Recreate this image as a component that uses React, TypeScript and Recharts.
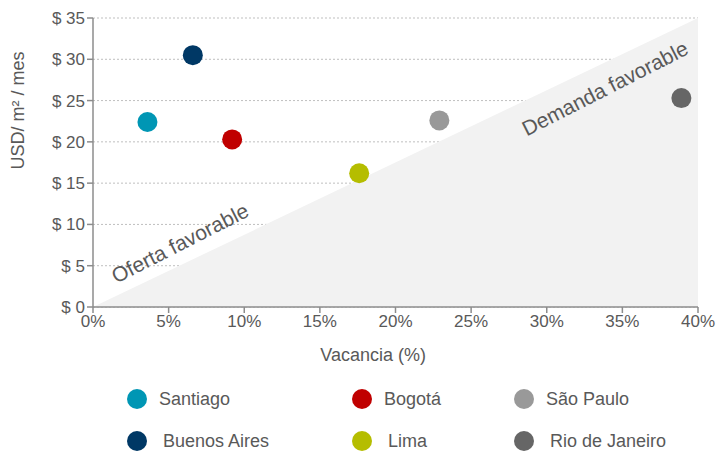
import React from 'react'
import {
  ScatterChart,
  Scatter,
  XAxis,
  YAxis,
  CartesianGrid,
  ReferenceArea,
  ReferenceDot,
  Label,
} from 'recharts'

const cities = ['Santiago', 'Buenos Aires', 'Bogotá', 'Lima', 'São Paulo', 'Rio de Janeiro']
const vacancy = [3.6, 6.6, 9.2, 17.6, 22.9, 38.9]
const rent = [22.4, 30.5, 20.3, 16.2, 22.6, 25.3]
const colors = ['#0096b4', '#003865', '#c00000', '#b5bd00', '#999999', '#666666']

const xTicks = [0, 5, 10, 15, 20, 25, 30, 35, 40]
const yTicks = [0, 5, 10, 15, 20, 25, 30, 35]

// zone labels on the diagonal
const zoneNames = ['Oferta favorable', 'Demanda favorable']
const zoneX = [5.75, 33.85]
const zoneY = [7.75, 26.5]

// legend is laid out column by column
const legendOrder = [0, 2, 4, 1, 3, 5]

const FONT = '"Liberation Sans", Arial, sans-serif'
const TEXT = '#595959'
const AXIS = '#8c8c8c'

const Dot = (color: string) => (p: any) => (
  <circle cx={p.cx} cy={p.cy} r={10} fill={color} />
)

const Triangle = (p: any) => {
  const { x, y, width, height } = p
  return (
    <polygon
      points={`${x},${y + height} ${x + width},${y} ${x + width},${y + height}`}
      fill="#f2f2f2"
    />
  )
}

const ZoneText = (text: string) => (p: any) => (
  <text
    x={p.cx}
    y={p.cy}
    textAnchor="middle"
    dominantBaseline="central"
    fontSize={21}
    fontFamily={FONT}
    fill={TEXT}
    transform={`rotate(-27 ${p.cx} ${p.cy})`}
  >
    {text}
  </text>
)

export default function App() {
  return (
    <div style={{ position: 'absolute', left: 0, top: 0, width: 720, height: 452, fontFamily: FONT }}>
      <ScatterChart width={720} height={452} margin={{ top: 18, right: 22, left: 0, bottom: 85 }}>
        <ReferenceArea x1={0} x2={40} y1={0} y2={35} shape={Triangle} />
        <CartesianGrid vertical={false} stroke="#bfbfbf" strokeDasharray="2 2" />
        <XAxis
          type="number"
          dataKey="x"
          domain={[0, 40]}
          ticks={xTicks}
          tickFormatter={(v) => `${v}%`}
          stroke={AXIS}
          strokeWidth={1.5}
          tick={{ fill: TEXT, fontSize: 17, fontFamily: FONT }}
          tickSize={6}
          height={60}
        >
          <Label
            content={({ viewBox }: any) => (
              <text
                x={viewBox.x + viewBox.width * 0.463}
                y={viewBox.y + 54}
                textAnchor="middle"
                fontSize={18}
                fontFamily={FONT}
                fill={TEXT}
              >
                Vacancia (%)
              </text>
            )}
          />
        </XAxis>
        <YAxis
          type="number"
          dataKey="y"
          domain={[0, 35]}
          ticks={yTicks}
          tickFormatter={(v) => `$ ${v}`}
          stroke={AXIS}
          strokeWidth={1.5}
          tick={{ fill: TEXT, fontSize: 17, fontFamily: FONT }}
          tickSize={6}
          width={93}
        >
          <Label
            content={({ viewBox }: any) => {
              const cx = viewBox.x + 18
              const cy = viewBox.y + viewBox.height * 0.32
              return (
                <text
                  x={cx}
                  y={cy}
                  textAnchor="middle"
                  dominantBaseline="central"
                  fontSize={18}
                  fontFamily={FONT}
                  fill={TEXT}
                  transform={`rotate(-90 ${cx} ${cy})`}
                >
                  USD/ m² / mes
                </text>
              )
            }}
          />
        </YAxis>
        {zoneNames.map((n, i) => (
          <ReferenceDot key={n} x={zoneX[i]} y={zoneY[i]} r={0} shape={ZoneText(n)} />
        ))}
        {cities.map((c, i) => (
          <Scatter
            key={c}
            name={c}
            data={[{ x: vacancy[i], y: rent[i] }]}
            shape={Dot(colors[i])}
            isAnimationActive={false}
          />
        ))}
      </ScatterChart>
      <div
        style={{
          position: 'absolute',
          left: 127,
          top: 388,
          display: 'grid',
          gridTemplateColumns: '225px 162px 200px',
          rowGap: 20,
        }}
      >
        {legendOrder.map((i, k) => (
          <div key={cities[i]} style={{ display: 'flex', alignItems: 'center', height: 22 }}>
            <span
              style={{
                width: 20,
                height: 20,
                borderRadius: '50%',
                background: colors[i],
                display: 'inline-block',
                marginRight: k < 3 ? 12 : 16,
              }}
            />
            <span style={{ fontSize: 18, color: TEXT }}>{cities[i]}</span>
          </div>
        ))}
      </div>
    </div>
  )
}
